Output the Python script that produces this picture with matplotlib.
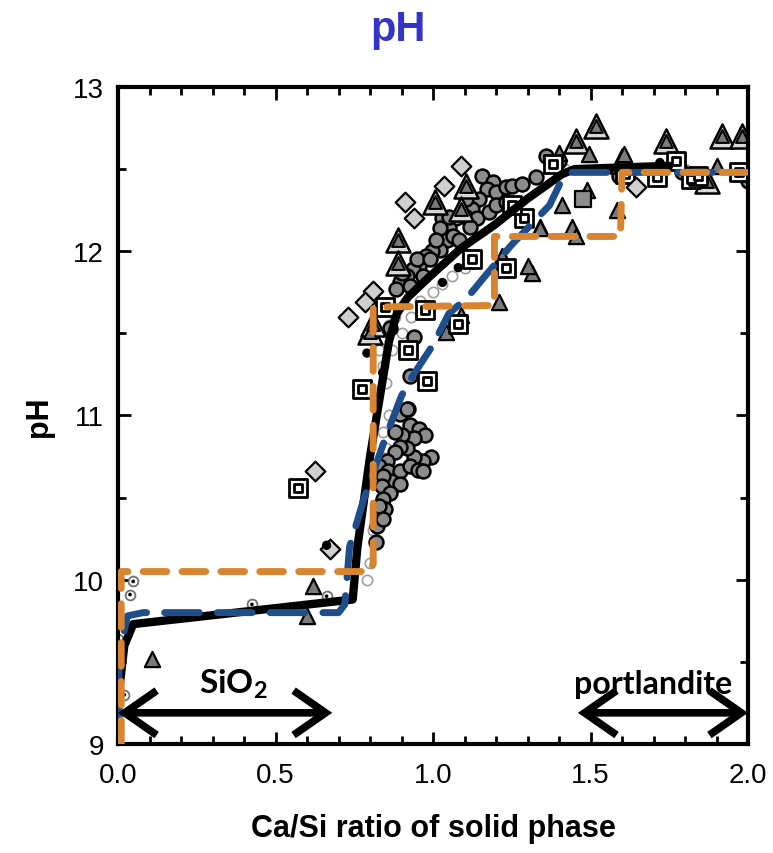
import matplotlib
matplotlib.use("Agg")
import matplotlib.pyplot as plt
from matplotlib.ticker import MultipleLocator

# ---- measured data: Ca/Si ratio of the solid phase vs. solution pH ----
# grey filled circles
circ_x = [0.894, 0.919, 0.926, 0.957, 0.973, 0.941, 0.903, 0.878, 0.995, 0.967,
          0.941, 0.916, 0.894, 0.878, 0.853, 0.830, 0.856, 0.894, 0.926, 0.951,
          0.967, 0.868, 0.894, 0.840, 0.837, 0.862, 0.840, 0.846, 0.824, 0.821,
          0.830, 0.840, 0.820, 0.941, 0.926, 0.916, 0.862,
          1.157, 1.189, 1.170, 1.201, 1.233, 1.252, 1.284, 1.328, 1.360, 1.147,
          1.125, 1.106, 1.074, 1.052, 1.030, 1.021, 1.043, 1.062, 1.084, 1.021,
          0.998, 0.979, 0.957, 0.935, 0.916, 0.894, 0.884, 0.903, 0.948, 1.011,
          1.106, 1.138, 1.179, 1.201, 1.233, 1.052, 1.116, 0.989, 0.967, 0.926,
          1.590, 1.790, 2.000, 1.400]
circ_y = [11.01, 11.04, 10.94, 10.92, 10.88, 10.86, 10.88, 10.90, 10.75, 10.72,
          10.75, 10.80, 10.81, 10.78, 10.72, 10.69, 10.66, 10.66, 10.69, 10.67,
          10.66, 10.60, 10.58, 10.63, 10.57, 10.53, 10.49, 10.43, 10.37, 10.33,
          10.45, 10.37, 10.23, 11.48, 11.24, 11.04, 11.53,
          12.46, 12.42, 12.38, 12.36, 12.39, 12.40, 12.41, 12.45, 12.58, 12.32,
          12.26, 12.21, 12.20, 12.14, 12.20, 12.14, 12.07, 12.09, 12.07, 12.01,
          12.00, 11.97, 11.91, 11.89, 11.85, 11.81, 11.77, 11.87, 11.95, 12.07,
          12.32, 12.20, 12.24, 12.28, 12.30, 12.21, 12.15, 11.95, 11.85, 11.79,
          12.46, 12.48, 12.43, 12.55]

# large triangles with an inner triangle
tri2_x = [1.518, 1.455, 1.740, 1.918, 1.981, 1.106, 1.005, 1.090, 0.888, 0.888,
          0.800, 0.810, 1.870, 1.600]
tri2_y = [12.76, 12.67, 12.67, 12.70, 12.70, 12.40, 12.30, 12.26, 12.07, 11.93,
          11.51, 11.56, 12.43, 12.55]

# solid grey triangles
tri_x = [1.496, 1.400, 1.607, 1.900, 1.410, 1.490, 1.440, 1.585, 1.455, 1.340,
         1.315, 1.338, 1.210, 1.220, 1.090, 1.040, 0.107, 0.620, 0.600, 1.300]
tri_y = [12.59, 12.60, 12.59, 12.52, 12.28, 12.37, 12.15, 12.25, 12.09, 12.15,
         11.87, 12.14, 11.69, 11.97, 11.61, 11.51, 9.52, 9.96, 9.78, 11.91]

# grey filled square
sq_x = [1.475]
sq_y = [12.32]

# framed squares
sq2_x = [1.770, 1.820, 1.970, 1.710, 1.380, 0.773, 0.980, 0.570, 1.125, 1.233,
         1.080, 0.920, 0.973, 1.610, 1.840, 0.846, 1.290, 1.250]
sq2_y = [12.55, 12.44, 12.48, 12.45, 12.53, 11.16, 11.21, 10.56, 11.95, 11.90,
         11.56, 11.40, 11.64, 12.47, 12.46, 11.66, 12.20, 12.28]

# light grey diamonds
dia_x = [1.090, 1.036, 0.910, 0.808, 0.783, 0.729, 0.624, 0.672, 1.645, 0.940]
dia_y = [12.52, 12.40, 12.30, 11.76, 11.69, 11.60, 10.66, 10.19, 12.39, 12.20]

# small open circles with a centre dot
dot_x = [0.048, 0.038, 0.000, 0.000, 0.000, 0.000, 0.000, 0.662, 0.425, 0.02]
dot_y = [9.99, 9.91, 9.64, 9.50, 9.44, 9.19, 9.07, 9.90, 9.85, 9.30]

# open rings along the steep branch
ring_x = [0.84, 0.85, 0.86, 0.84, 0.85, 0.83, 0.82, 0.81, 0.87, 0.90, 0.93, 0.96,
          1.00, 1.03, 1.06, 1.10, 0.88, 0.86, 0.83, 0.80, 0.79, 1.42, 1.60, 1.80]
ring_y = [11.30, 11.20, 11.00, 10.90, 10.80, 10.60, 10.40, 10.30, 11.40, 11.50,
          11.60, 11.70, 11.75, 11.80, 11.85, 11.90, 11.60, 11.55, 11.40, 10.10,
          10.00, 12.50, 12.50, 12.50]

# small black dots
blk_x = [0.79, 0.84, 1.03, 1.08, 0.662, 1.72]
blk_y = [11.38, 11.26, 11.81, 11.90, 10.21, 12.54]

# ---- model curves ----
model1_x = [0.000, 0.005, 0.020, 0.048, 0.745, 0.760, 0.800, 0.830, 0.860, 0.885,
            0.920, 0.986, 1.090, 1.195, 1.300, 1.410, 1.450, 1.750]
model1_y = [9.20, 9.35, 9.60, 9.73, 9.88, 10.20, 10.75, 11.10, 11.45, 11.62,
            11.72, 11.84, 12.02, 12.16, 12.32, 12.47, 12.50, 12.52]

model2_x = [0.003, 0.003, 0.030, 0.080, 0.700, 0.720, 0.735, 0.780, 0.850, 0.900,
            0.935, 1.000, 1.050, 1.110, 1.170, 1.250, 1.370, 1.410, 1.440, 2.000]
model2_y = [9.05, 9.55, 9.78, 9.80, 9.80, 9.85, 10.20, 10.49, 10.87, 11.12,
            11.24, 11.43, 11.62, 11.72, 11.86, 12.04, 12.28, 12.44, 12.48, 12.48]

model3_x = [0.010, 0.010, 0.800, 0.810, 0.810, 1.195, 1.195, 1.595, 1.600, 2.000]
model3_y = [9.00, 10.05, 10.05, 10.10, 11.66, 11.67, 12.09, 12.09, 12.48, 12.48]

# stability ranges of the end members
sio2_range = [0.0, 0.68]
portlandite_range = [1.46, 2.0]
range_ph = 9.19

# ---- figure ----
fig = plt.figure(figsize=(7.73, 8.54), dpi=100)
ax = fig.add_axes([0.1527, 0.1276, 0.8150, 0.7694])

edge = "black"
ax.scatter(ring_x, ring_y, s=55, facecolor="white", edgecolor="#a0a0a0", linewidth=1.2, zorder=2)
ax.scatter(circ_x, circ_y, s=100, facecolor="#8c8c8c", edgecolor=edge, linewidth=1.8, zorder=2)
ax.scatter(tri2_x, tri2_y, s=300, marker="^", facecolor="#d8d8d8", edgecolor=edge, linewidth=1.8, zorder=2)
ax.scatter(tri2_x, tri2_y, s=85, marker="^", facecolor="#7a7a7a", edgecolor=edge, linewidth=1.5, zorder=2)
ax.scatter(tri_x, tri_y, s=120, marker="^", facecolor="#7a7a7a", edgecolor=edge, linewidth=1.6, zorder=2)
ax.scatter(sq_x, sq_y, s=130, marker="s", facecolor="#8c8c8c", edgecolor=edge, linewidth=1.6, zorder=2)
ax.scatter(sq2_x, sq2_y, s=170, marker="s", facecolor="white", edgecolor=edge, linewidth=2.0, zorder=2)
ax.scatter(sq2_x, sq2_y, s=40, marker="s", facecolor="white", edgecolor=edge, linewidth=2.0, zorder=2)
ax.scatter(dia_x, dia_y, s=100, marker="D", facecolor="#cfcfcf", edgecolor=edge, linewidth=1.6, zorder=2)
ax.scatter(dot_x, dot_y, s=50, facecolor="white", edgecolor="#707070", linewidth=1.3, zorder=2)
ax.scatter(dot_x, dot_y, s=7, facecolor="black", edgecolor="none", zorder=2)
ax.scatter(blk_x, blk_y, s=45, facecolor="black", edgecolor="none", zorder=2)

ax.plot(model1_x, model1_y, color="black", lw=6, solid_joinstyle="round",
        solid_capstyle="round", zorder=3)
ax.plot(model2_x, model2_y, color="#1f4e8c", lw=5, dashes=(5, 2.6),
        dash_capstyle="round", dash_joinstyle="round", zorder=4)
ax.plot(model3_x, model3_y, color="#d98430", lw=5, dashes=(3.4, 2.2),
        dash_capstyle="round", dash_joinstyle="round", zorder=5)

arrow_kw = dict(arrowstyle="<->,head_length=1.15,head_width=0.8", lw=5.5,
                color="black", shrinkA=0, shrinkB=0, mutation_scale=20,
                capstyle="butt", joinstyle="miter")
ax.annotate("", xy=(sio2_range[0], range_ph), xytext=(sio2_range[1], range_ph),
            arrowprops=arrow_kw, zorder=6)
ax.annotate("", xy=(portlandite_range[0], range_ph), xytext=(portlandite_range[1], range_ph),
            arrowprops=arrow_kw, zorder=6)
ax.text(0.365, 9.37, r"SiO$_\mathregular{2}$", family="Lato", fontweight="bold",
        fontsize=24, ha="center", va="center", zorder=6)
ax.text(1.70, 9.37, "portlandite", family="Lato", fontweight="bold",
        fontsize=23, ha="center", va="center", zorder=6)

ax.set_xlim(0.0, 2.0)
ax.set_ylim(9, 13)
ax.xaxis.set_major_locator(MultipleLocator(0.5))
ax.xaxis.set_minor_locator(MultipleLocator(0.1))
ax.yaxis.set_major_locator(MultipleLocator(1))
ax.yaxis.set_minor_locator(MultipleLocator(0.5))
ax.set_xticks([0.0, 0.5, 1.0, 1.5, 2.0])
ax.set_xticklabels(["0.0", "0.5", "1.0", "1.5", "2.0"])
ax.tick_params(which="both", direction="in", top=True, right=True, width=2,
               labelsize=20, colors="black")
ax.tick_params(which="major", length=9, pad=13)
ax.tick_params(which="minor", length=6)
ax.tick_params(axis="y", which="major", pad=10)
for lab in ax.get_xticklabels() + ax.get_yticklabels():
    lab.set_family("Liberation Sans")
for sp in ax.spines.values():
    sp.set_linewidth(3)

ax.set_xlabel("Ca/Si ratio of solid phase", family="Liberation Sans",
              fontweight="bold", fontsize=22, labelpad=18)
ax.set_ylabel("pH", family="Liberation Sans", fontweight="bold", fontsize=22,
              labelpad=14)
fig.text(0.515, 0.965, "pH", family="Liberation Sans", fontweight="bold",
         fontsize=30, color="#3434c8", ha="center", va="center")

fig.savefig("out.png", dpi=100)
